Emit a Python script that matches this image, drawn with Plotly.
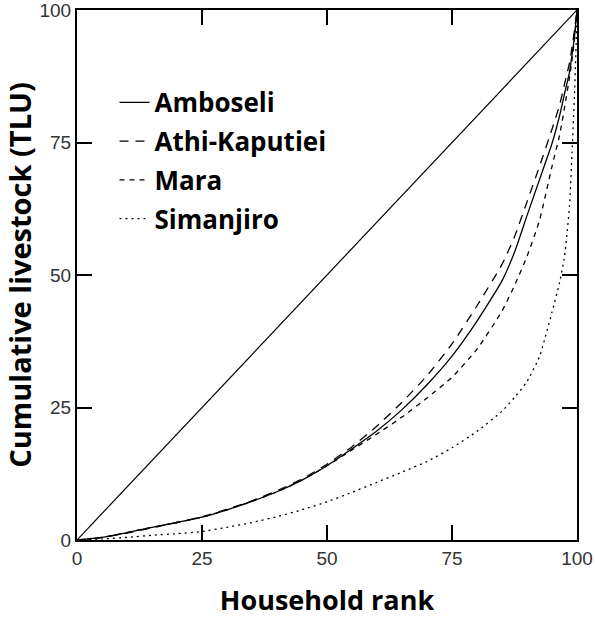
import plotly.graph_objects as go

# Lorenz curves of livestock holdings (cumulative % TLU vs household rank)
rank = [0, 5, 10, 15, 20, 25, 30, 35, 40, 45, 50, 55, 60, 65, 70, 75, 80, 85,
        87.5, 90, 92.5, 95, 96.5, 97.5, 98.5, 99, 99.5, 99.9, 100]

amboseli = [0, 0.5, 1.4, 2.4, 3.3, 4.3, 5.7, 7.3, 9.1, 11.3, 14.0, 17.2, 20.6,
            24.6, 29.3, 34.7, 41.3, 48.9, 54.3, 61.2, 68.0, 74.8, 80.0, 84.2,
            88.3, 91.5, 95.0, 99.0, 100]
athi = [0, 0.5, 1.3, 2.3, 3.3, 4.4, 5.8, 7.4, 9.3, 11.5, 14.3, 17.6, 21.5,
        26.0, 31.0, 37.0, 44.2, 52.0, 57.2, 63.8, 70.5, 77.5, 82.0, 86.0,
        90.0, 93.0, 96.2, 99.2, 100]
mara = [0, 0.5, 1.4, 2.4, 3.3, 4.3, 5.7, 7.3, 9.1, 11.3, 14.0, 17.0, 20.0,
        23.2, 26.8, 30.7, 36.0, 43.2, 48.0, 53.5, 60.3, 70.5, 76.3, 81.5,
        87.3, 90.5, 94.5, 98.8, 100]
simanjiro = [0, 0.2, 0.5, 0.9, 1.2, 1.6, 2.4, 3.3, 4.4, 5.7, 7.2, 9.0, 10.9,
             12.8, 14.8, 17.4, 20.5, 24.3, 26.9, 29.9, 34.6, 43.0, 48.5, 53.5,
             63.0, 73.0, 84.0, 96.0, 100]

equality_x = [0, 100]
equality_y = [0, 100]

series = [
    ("Amboseli", amboseli, "solid"),
    ("Athi-Kaputiei", athi, "9px,7px"),
    ("Mara", mara, "5px,5px"),
    ("Simanjiro", simanjiro, "2px,4px"),
]

fig = go.Figure()

fig.add_trace(go.Scatter(x=equality_x, y=equality_y, mode="lines",
                         line=dict(color="black", width=1.2),
                         showlegend=False, hoverinfo="skip"))

for name, vals, dash in series:
    fig.add_trace(go.Scatter(
        x=rank, y=vals, mode="lines", name="<b>" + name + "</b>", legendgroup=name,
        line=dict(color="black", width=1.3, dash=dash, shape="spline", smoothing=0.5),
    ))

axis_common = dict(
    range=[0, 100], tickvals=[0, 25, 50, 75, 100],
    ticks="inside", ticklen=15, tickwidth=1.5, tickcolor="black",
    showline=True, linecolor="black", linewidth=2, mirror="allticks",
    showgrid=False, zeroline=False, automargin=False, ticklabeloverflow="allow",
    tickfont=dict(family="Liberation Sans Narrow, Arial Narrow, sans-serif",
                  size=19, color="#333"),
)

fig.update_layout(
    width=595, height=623,
    margin=dict(l=77, r=18, t=10, b=83),
    plot_bgcolor="white", paper_bgcolor="white",
    font=dict(family="Open Sans, sans-serif", color="black"),
    xaxis=dict(title=dict(text="<b>Household rank</b>", font=dict(size=27), standoff=23),
               **axis_common),
    yaxis=dict(title=dict(text="<b>Cumulative livestock (TLU)</b>", font=dict(size=29), standoff=5),
               **axis_common),
    legend=dict(x=0.075, y=0.87, xanchor="left", yanchor="top",
                bgcolor="rgba(0,0,0,0)", borderwidth=0,
                font=dict(size=26), itemwidth=30, tracegroupgap=2,
                traceorder="grouped"),
)

# drop the browser's default page margin so the figure sits at the window corner
fig.write_html("out.html", config={"displayModeBar": False},
               post_script="document.body.style.margin='0';")
